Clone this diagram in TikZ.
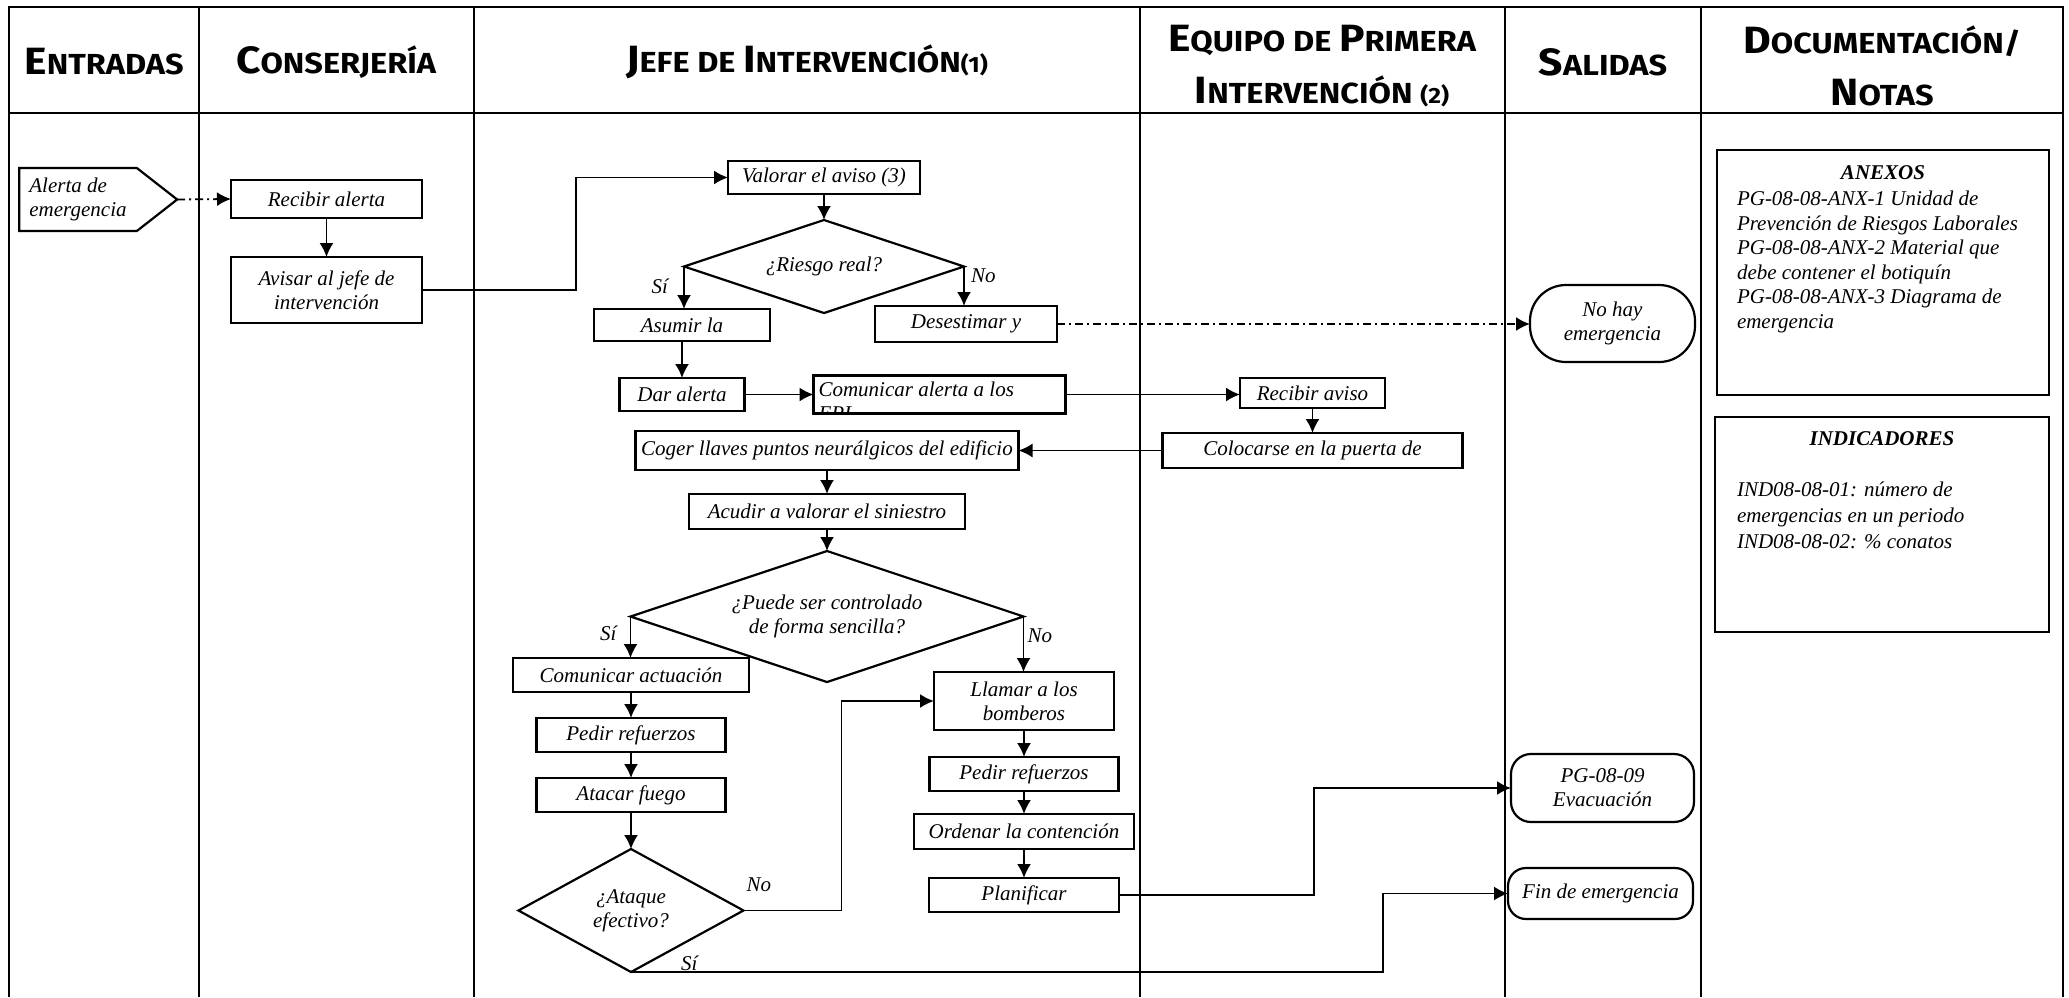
\documentclass[tikz,border=0pt]{standalone}
\usepackage{fontspec}
\setmainfont{Liberation Serif}
\newfontfamily\cabecera[FakeStretch=1.12]{Fira Sans}
\usetikzlibrary{positioning}
\usetikzlibrary{shapes.geometric}
\usetikzlibrary{shapes.symbols}
\usetikzlibrary{arrows.meta}
\newcommand{\versal}[2]{{\fontsize{19}{20}\selectfont #1}{\fontsize{14.5}{16}\selectfont #2}}

\begin{document}
\begin{tikzpicture}[x=0.5pt,y=-0.5pt,outer sep=0pt,
font=\fontsize{10.5}{12}\selectfont\itshape,
tarea/.style={draw,line width=1.1pt,inner sep=1pt,align=center},
decision/.style={draw,diamond,line width=1.1pt,inner sep=0pt,align=center},
terminal/.style={draw,line width=1.1pt,rounded corners=#1,inner sep=1pt,align=center},
entrada/.style={draw,signal,signal to=east,signal pointer angle=76,line width=1.1pt,align=left,inner sep=2pt},
cabeza/.style={font=\cabecera\bfseries\fontsize{14.5}{26}\selectfont,align=center},
etiqueta/.style={inner sep=0pt},
caja/.style={draw,line width=1.1pt},
nota/.style={anchor=north west,align=left,inner sep=0pt},
flecha/.style={-{Latex[length=7pt,width=7pt]},line width=0.9pt},
puntos/.style={flecha,dash pattern=on 4pt off 2pt on 1pt off 2pt}
]
\useasboundingbox (0,0) rectangle (2069,997);
% tabla
\draw[line width=1.4pt] (9,997) -- (9,7) -- (2063,7) -- (2063,997);
\draw[line width=1pt] (9,113) -- (2063,113);
\foreach \x in {199,474,1140,1505,1701} \draw[line width=0.9pt] (\x,7) -- (\x,997);
%--
\node[cabeza] (hEntradas) at (104,62) {\versal{E}{NTRADAS}};
\node[cabeza] (hConserjeria) at (336,62) {\versal{C}{ONSERJERÍA}};
\node[cabeza] (hJefe) at (807,62) {\versal{J}{EFE DE }\versal{I}{NTERVENCIÓN}{\fontsize{11}{12}\selectfont(1)}};
\node[cabeza] (hEquipo) at (1322,66) {\versal{E}{QUIPO DE }\versal{P}{RIMERA}\\\versal{I}{NTERVENCIÓN }{\fontsize{11}{12}\selectfont(2)}};
\node[cabeza] (hSalidas) at (1603,62) {\versal{S}{ALIDAS}};
\node[cabeza] (hDoc) at (1882,66) {\versal{D}{OCUMENTACIÓN/}\\\versal{N}{OTAS}};
%--
\node[entrada,minimum width=79pt,minimum height=31.5pt] (alerta) at (78,199.5) {Alerta de\\emergencia};
\node[tarea,minimum width=95.5pt,minimum height=19pt] (recibir) at (326.5,199) {Recibir alerta};
\draw[puntos] (alerta.east) -- (recibir.west);
\node[tarea,minimum width=95.5pt,minimum height=33pt,below=19.5pt of recibir] (avisar) {Avisar al jefe de\\intervención};
\draw[flecha] (recibir) -- (avisar);
%--
\node[tarea,minimum width=96pt,minimum height=16.5pt] (valorar) at (824,177.5) {Valorar el aviso (3)};
\draw[flecha] (avisar.east) -- ++(154,0) |- (valorar.west);
\node[decision,minimum width=140pt,minimum height=46.5pt,aspect=3,below=13pt of valorar] (riesgo) {¿Riesgo real?};
\draw[flecha] (valorar) -- (riesgo);
\node[etiqueta,below left=6pt and 8pt of riesgo.west] (si1) {Sí};
\node[etiqueta,below right=1pt and 3.5pt of riesgo.east] (no1) {No};
%--
\node[tarea,minimum width=88pt,minimum height=16pt] (asumir) at (682,325) {Asumir la};
\draw[flecha] (riesgo.west) -- (riesgo.west |- asumir.north);
\node[tarea,minimum width=91pt,minimum height=18pt] (desestimar) at (966,324) {Desestimar y};
\draw[flecha] (riesgo.east) -- (riesgo.east |- desestimar.north);
\node[terminal=18pt,minimum width=82.5pt,minimum height=38.5pt] (nohay) at (1612.5,323.5) {No hay\\emergencia};
\draw[puntos] (desestimar.east) -- (desestimar.east -| nohay.west);
%--
\node[tarea,minimum width=62.5pt,minimum height=16.5pt,below=18.5pt of asumir] (dar) {Dar alerta};
\draw[flecha] (asumir) -- (dar);
\node[tarea,minimum width=126pt,minimum height=19pt,right=34.5pt of dar] (comA) {};
\begin{scope}
\clip (comA.south west) rectangle (comA.north east);
\node[nota] (comAtxt) at ([xshift=2.5pt,yshift=-3pt]comA.north west) {Comunicar alerta a los\\EPI};
\end{scope}
\draw[flecha] (dar) -- (comA);
%--
\node[tarea,minimum width=72.5pt,minimum height=15pt] (recAviso) at (1312.5,393) {Recibir aviso};
\draw[flecha] (comA.east) -- (comA.east -| recAviso.west);
\node[tarea,minimum width=150pt,minimum height=17.5pt,below=12.5pt of recAviso] (colocarse) {Colocarse en la puerta de};
\draw[flecha] (recAviso) -- (colocarse);
\node[tarea,minimum width=191.5pt,minimum height=19.5pt,left=72pt of colocarse] (coger) {Coger llaves puntos neurálgicos del edificio};
\draw[flecha] (colocarse) -- (coger);
\node[tarea,minimum width=138pt,minimum height=17.5pt,below=12pt of coger] (acudir) {Acudir a valorar el siniestro};
\draw[flecha] (coger) -- (acudir);
%--
\node[decision,minimum width=196.5pt,minimum height=65.5pt,aspect=3,below=11pt of acudir] (puede) {¿Puede ser controlado\\de forma sencilla?};
\draw[flecha] (acudir) -- (puede);
\node[etiqueta,below left=4.5pt and 7pt of puede.west] (si2) {Sí};
\node[etiqueta,below right=6pt and 2pt of puede.east] (no2) {No};
%--
\node[tarea,minimum width=118pt,minimum height=17pt] (comAct) at (631,675) {Comunicar actuación};
\draw[flecha] (puede.west) -- (puede.west |- comAct.north);
\node[tarea,minimum width=94.5pt,minimum height=17pt,below=13pt of comAct] (pedirA) {Pedir refuerzos};
\draw[flecha] (comAct) -- (pedirA);
\node[tarea,minimum width=94.5pt,minimum height=17pt,below=13pt of pedirA] (atacar) {Atacar fuego};
\draw[flecha] (pedirA) -- (atacar);
\node[decision,minimum width=112.5pt,minimum height=61.5pt,aspect=1.83,below=18.5pt of atacar] (ataque) {¿Ataque\\efectivo?};
\draw[flecha] (atacar) -- (ataque);
\node[etiqueta,above right=9.5pt and 1.5pt of ataque.east] (no3) {No};
\node[etiqueta,above right=0.5pt and 25pt of ataque.south] (si3) {Sí};
%--
\node[tarea,minimum width=90pt,minimum height=29pt] (llamar) at (1024,701) {Llamar a los\\bomberos};
\draw[flecha] (puede.east) -- (puede.east |- llamar.north);
\draw[flecha] (ataque.east) -- ++(98,0) |- (llamar.west);
\node[tarea,minimum width=94.5pt,minimum height=17pt,below=13.5pt of llamar] (pedirB) {Pedir refuerzos};
\draw[flecha] (llamar) -- (pedirB);
\node[tarea,minimum width=110pt,minimum height=17.5pt,below=11.5pt of pedirB] (ordenar) {Ordenar la contención};
\draw[flecha] (pedirB) -- (ordenar);
\node[tarea,minimum width=95pt,minimum height=17pt,below=14.5pt of ordenar] (planificar) {Planificar};
\draw[flecha] (ordenar) -- (planificar);
%--
\node[terminal=10pt,minimum width=91.5pt,minimum height=34pt] (evacuacion) at (1602.5,788) {PG-08-09\\Evacuación};
\draw[flecha] (planificar.east) -- ++(195,0) |- (evacuacion.west);
\node[terminal=9pt,minimum width=92.5pt,minimum height=25.5pt] (fin) at (1600.5,893.5) {Fin de emergencia};
\draw[flecha] (ataque.south) -- ++(752,0) |- (fin.west);
%--
\node[caja,minimum width=166pt,minimum height=122.5pt] (anexos) at (1883,272.5) {};
\node[etiqueta,below=8pt of anexos.north,font=\fontsize{10.5}{12}\selectfont\bfseries\itshape] (anexosTit) {ANEXOS};
\node[nota,font=\fontsize{10.5}{12.25}\selectfont\itshape] (anexosTxt) at (1737,191) {PG-08-08-ANX-1 Unidad de\\Prevención de Riesgos Laborales\\PG-08-08-ANX-2 Material que\\debe contener el botiquín\\PG-08-08-ANX-3 Diagrama de\\emergencia};
\node[caja,minimum width=167pt,minimum height=107.5pt] (indicadores) at (1882,524.5) {};
\node[etiqueta,below=7.5pt of indicadores.north,font=\fontsize{10.5}{12}\selectfont\bfseries\itshape] (indicTit) {INDICADORES};
\node[nota,font=\fontsize{10.5}{13}\selectfont\itshape] (indicTxt) at (1737,482) {IND08-08-01: número de\\emergencias en un periodo\\IND08-08-02: \% conatos};
\end{tikzpicture}
\end{document}
